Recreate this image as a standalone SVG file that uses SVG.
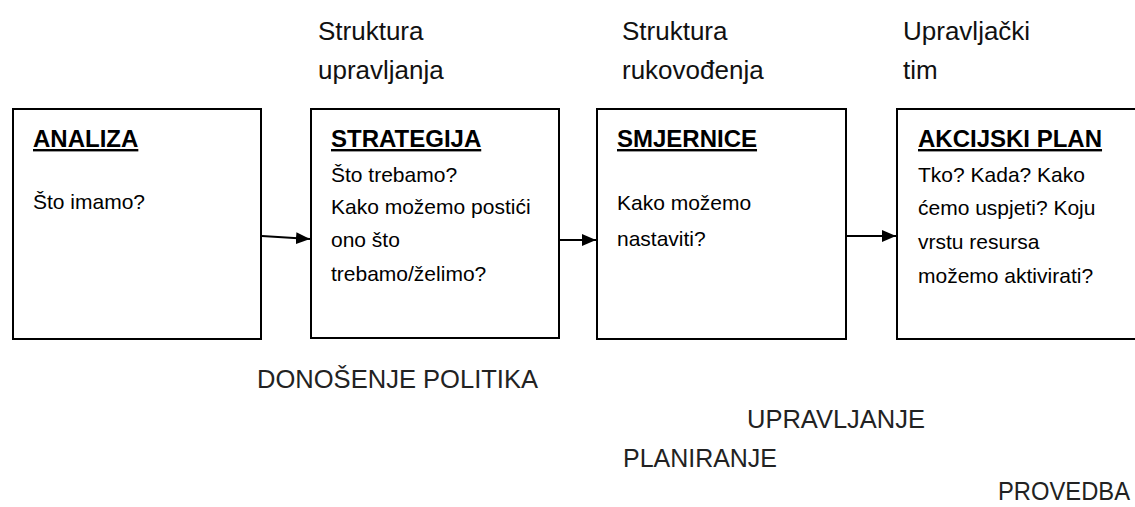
<svg xmlns="http://www.w3.org/2000/svg" width="1135" height="507" viewBox="0 0 1135 507">
<defs>
<style>
.box{fill:#fff;stroke:#000;stroke-width:2}
.t{font-family:"Liberation Sans",Arial,sans-serif;fill:#000}
.h{font-size:24px;font-weight:bold;text-decoration:underline}
.b{font-size:21px}
.top{font-size:26px;fill:#111}
.bot{font-size:25.5px;fill:#222}
.conn{stroke:#000;stroke-width:2;fill:none}
</style>
<marker id="arr" markerUnits="userSpaceOnUse" markerWidth="14" markerHeight="12" refX="14" refY="6" orient="auto">
<path d="M0,0 L14,6 L0,12 Z" fill="#000"/>
</marker>
</defs>
<rect width="1135" height="507" fill="#fff"/>

<g id="labels-top">
<text class="t top" x="318" y="40">Struktura</text>
<text class="t top" x="318" y="79">upravljanja</text>
<text class="t top" x="622" y="40">Struktura</text>
<text class="t top" x="622" y="79">rukovođenja</text>
<text class="t top" x="903" y="40">Upravljački</text>
<text class="t top" x="903" y="79">tim</text>
</g>

<g id="analiza">
<rect class="box" x="13" y="109" width="248" height="230"/>
<text class="t h" x="33" y="147">ANALIZA</text>
<text class="t b" x="33" y="209">Što imamo?</text>
</g>

<g id="strategija">
<rect class="box" x="311" y="109" width="248" height="229"/>
<text class="t h" x="331" y="147">STRATEGIJA</text>
<text class="t b" x="331" y="182">Što trebamo?</text>
<text class="t b" x="331" y="214">Kako možemo postići</text>
<text class="t b" x="331" y="247">ono što</text>
<text class="t b" x="331" y="281">trebamo/želimo?</text>
</g>

<g id="smjernice">
<rect class="box" x="597" y="109" width="249" height="230"/>
<text class="t h" x="617" y="147">SMJERNICE</text>
<text class="t b" x="617" y="210">Kako možemo</text>
<text class="t b" x="617" y="246">nastaviti?</text>
</g>

<g id="akcijski-plan">
<rect class="box" x="897" y="109" width="260" height="230"/>
<text class="t h" x="918" y="147">AKCIJSKI PLAN</text>
<text class="t b" x="918" y="182">Tko? Kada? Kako</text>
<text class="t b" x="918" y="215">ćemo uspjeti? Koju</text>
<text class="t b" x="918" y="249">vrstu resursa</text>
<text class="t b" x="918" y="283">možemo aktivirati?</text>
</g>

<g id="connectors">
<line class="conn" x1="262" y1="236" x2="310" y2="239" marker-end="url(#arr)"/>
<line class="conn" x1="560" y1="240" x2="596" y2="240" marker-end="url(#arr)"/>
<line class="conn" x1="847" y1="236" x2="896" y2="236" marker-end="url(#arr)"/>
</g>

<g id="labels-bottom">
<text class="t bot" x="257" y="388" textLength="281" lengthAdjust="spacingAndGlyphs">DONOŠENJE POLITIKA</text>
<text class="t bot" x="747" y="428" textLength="178" lengthAdjust="spacingAndGlyphs">UPRAVLJANJE</text>
<text class="t bot" x="623" y="467" textLength="154" lengthAdjust="spacingAndGlyphs">PLANIRANJE</text>
<text class="t bot" x="998" y="500" textLength="132" lengthAdjust="spacingAndGlyphs">PROVEDBA</text>
</g>
</svg>
